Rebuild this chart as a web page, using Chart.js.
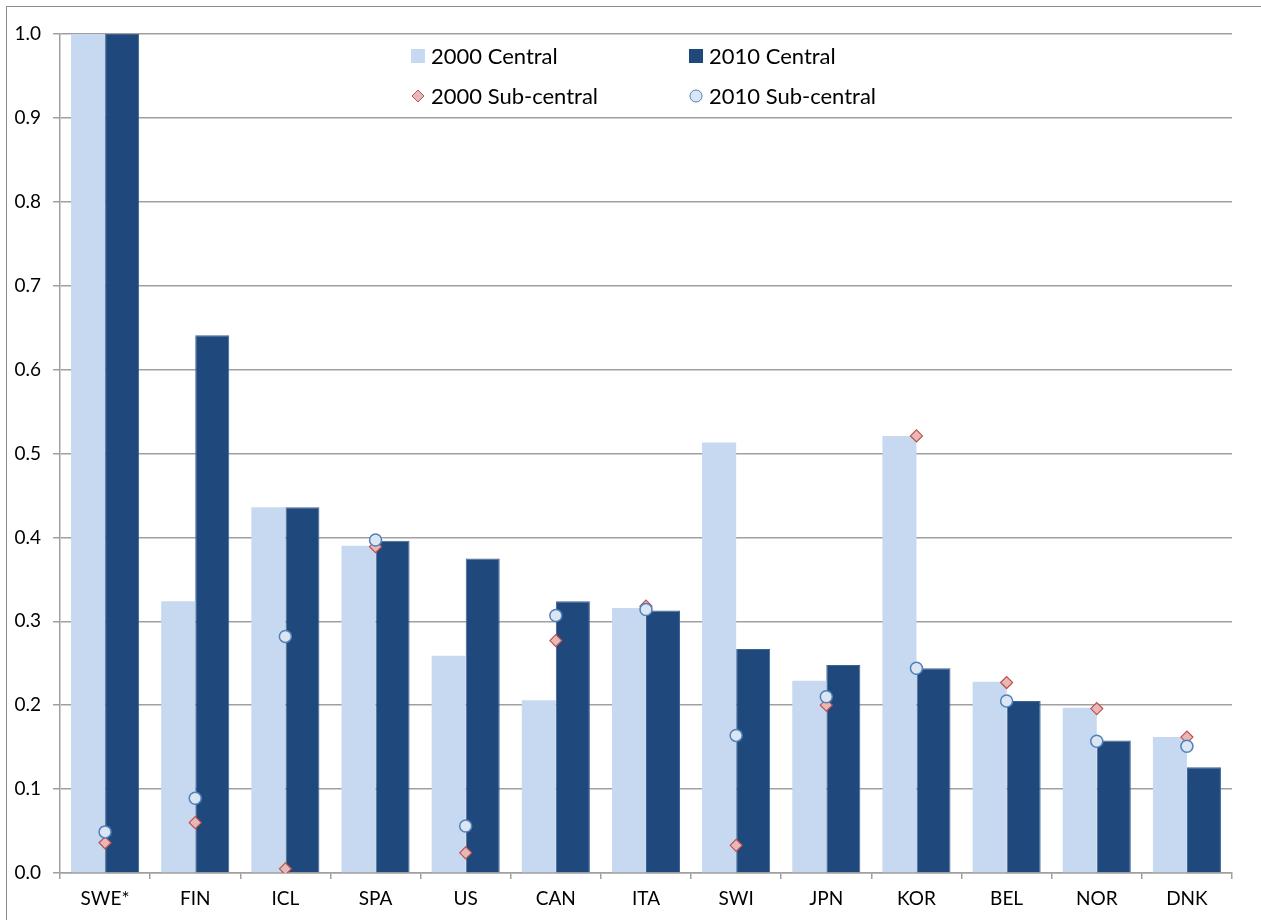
<!DOCTYPE html>
<html>
<head>
<meta charset="utf-8">
<script src="https://cdn.jsdelivr.net/npm/chart.js@4.4.0/dist/chart.umd.min.js"></script>
<style>
  html, body { margin: 0; padding: 0; background: #ffffff; }
  #wrap { width: 1261px; height: 920px; position: relative; }
</style>
</head>
<body>
<div id="wrap"><canvas id="chart" width="1261" height="920"></canvas></div>
<script>
// Countries on the category axis
const categories = ['SWE*', 'FIN', 'ICL', 'SPA', 'US', 'CAN', 'ITA', 'SWI', 'JPN', 'KOR', 'BEL', 'NOR', 'DNK'];

// Central government shares (bars)
const central2000 = [1.0, 0.324, 0.436, 0.390, 0.259, 0.206, 0.316, 0.513, 0.229, 0.521, 0.228, 0.197, 0.162];
const central2010 = [1.0, 0.641, 0.436, 0.396, 0.375, 0.324, 0.313, 0.267, 0.248, 0.244, 0.205, 0.158, 0.126];

// Sub-central government shares (markers)
const subCentral2000 = [0.036, 0.060, 0.005, 0.389, 0.024, 0.277, 0.318, 0.033, 0.200, 0.521, 0.227, 0.196, 0.162];
const subCentral2010 = [0.049, 0.089, 0.282, 0.397, 0.056, 0.307, 0.314, 0.164, 0.210, 0.244, 0.205, 0.157, 0.151];

// Value axis range
const yMin = 0;
const yMax = 1.0;
const yStep = 0.1;

const FONT = 'Lato, "Open Sans", "DejaVu Sans", sans-serif';
const GRID = '#a0a0a0';

const COLORS = {
  light: '#c6d9f0',
  dark: '#1f497d',
  darkEdge: '#3d6294',
  diamondFill: '#e6b9b8',
  diamondLine: '#c0504d',
  circleFill: '#dce6f2',
  circleLine: '#4f81bd'
};

// Outer frame of the chart area
const framePlugin = {
  id: 'frame',
  beforeDraw(chart) {
    const ctx = chart.ctx;
    ctx.save();
    ctx.fillStyle = '#ffffff';
    ctx.fillRect(0, 0, chart.width, chart.height);
    ctx.strokeStyle = '#8c8c8c';
    ctx.lineWidth = 1;
    ctx.strokeRect(6.5, 6.5, chart.width + 20, chart.height + 20);
    ctx.restore();
  }
};

// Two-column legend drawn inside the plot
const insideLegend = {
  id: 'insideLegend',
  afterDraw(chart) {
    const ctx = chart.ctx;
    const a = chart.chartArea;
    const cols = [a.left + 358, a.left + 636];
    const rows = [a.top + 22, a.top + 62];
    const items = [
      { text: '2000 Central', kind: 'square', fill: COLORS.light, col: 0, row: 0 },
      { text: '2010 Central', kind: 'square', fill: COLORS.dark, col: 1, row: 0 },
      { text: '2000 Sub-central', kind: 'diamond', fill: COLORS.diamondFill, line: COLORS.diamondLine, col: 0, row: 1 },
      { text: '2010 Sub-central', kind: 'circle', fill: COLORS.circleFill, line: COLORS.circleLine, col: 1, row: 1 }
    ];
    ctx.save();
    ctx.font = '22px ' + FONT;
    ctx.textBaseline = 'middle';
    ctx.textAlign = 'left';
    items.forEach(it => {
      const x = cols[it.col];
      const y = rows[it.row];
      ctx.lineWidth = 1;
      if (it.kind === 'square') {
        ctx.fillStyle = it.fill;
        ctx.fillRect(x - 7, y - 7, 14, 14);
      } else if (it.kind === 'diamond') {
        ctx.beginPath();
        ctx.moveTo(x, y - 6);
        ctx.lineTo(x + 6, y);
        ctx.lineTo(x, y + 6);
        ctx.lineTo(x - 6, y);
        ctx.closePath();
        ctx.fillStyle = it.fill;
        ctx.fill();
        ctx.strokeStyle = it.line;
        ctx.stroke();
      } else {
        ctx.beginPath();
        ctx.arc(x, y, 6, 0, Math.PI * 2);
        ctx.fillStyle = it.fill;
        ctx.fill();
        ctx.strokeStyle = it.line;
        ctx.stroke();
      }
      ctx.fillStyle = '#000000';
      ctx.fillText(it.text, x + 13, y + 1);
    });
    ctx.restore();
  }
};

new Chart(document.getElementById('chart'), {
  type: 'bar',
  data: {
    labels: categories,
    datasets: [
      {
        type: 'line',
        label: '2010 Sub-central',
        data: subCentral2010,
        showLine: false,
        pointStyle: 'circle',
        pointRadius: 6,
        pointBackgroundColor: COLORS.circleFill,
        pointBorderColor: COLORS.circleLine,
        pointBorderWidth: 1.5,
        order: 0
      },
      {
        type: 'line',
        label: '2000 Sub-central',
        data: subCentral2000,
        showLine: false,
        pointStyle: 'rectRot',
        pointRadius: 6,
        pointBackgroundColor: COLORS.diamondFill,
        pointBorderColor: COLORS.diamondLine,
        pointBorderWidth: 1.2,
        order: 1
      },
      {
        label: '2000 Central',
        data: central2000,
        backgroundColor: COLORS.light,
        borderWidth: 0,
        order: 2
      },
      {
        label: '2010 Central',
        data: central2010,
        backgroundColor: COLORS.dark,
        borderColor: COLORS.darkEdge,
        borderWidth: 1,
        order: 2
      }
    ]
  },
  options: {
    responsive: false,
    animation: false,
    devicePixelRatio: 1,
    datasets: {
      bar: {
        categoryPercentage: 0.755,
        barPercentage: 1.0,
        grouped: true
      }
    },
    layout: { padding: { top: 34, right: 29, bottom: 0, left: 0 } },
    plugins: {
      legend: { display: false },
      tooltip: { enabled: false }
    },
    scales: {
      x: {
        offset: true,
        grid: {
          display: true,
          drawOnChartArea: false,
          drawTicks: true,
          tickLength: 6,
          color: GRID,
          lineWidth: 1.5,
          offset: true
        },
        border: { display: true, color: GRID, width: 1.5 },
        ticks: {
          color: '#000000',
          font: { family: FONT, size: 19 },
          padding: 8,
          maxRotation: 0,
          autoSkip: false
        },
        afterFit(scale) { scale.height = 47; }
      },
      y: {
        min: yMin,
        max: yMax,
        ticks: {
          stepSize: yStep,
          color: '#000000',
          font: { family: FONT, size: 19 },
          padding: 12,
          callback: v => Number(v).toFixed(1)
        },
        grid: {
          color: GRID,
          lineWidth: 1.5,
          tickLength: 7,
          drawTicks: true
        },
        border: { display: true, color: GRID, width: 1.5 },
        afterFit(scale) { scale.width = 60; }
      }
    }
  },
  plugins: [framePlugin, insideLegend]
});
</script>
</body>
</html>
